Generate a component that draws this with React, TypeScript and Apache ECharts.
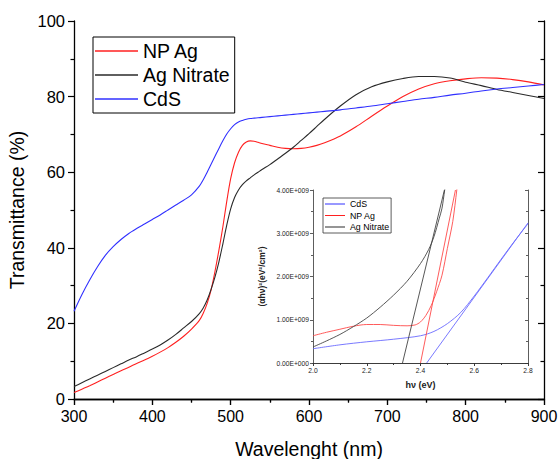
import React, { useEffect, useRef } from "react";
import * as echarts from "echarts";

const FONT = "'Liberation Sans', Arial, sans-serif";

// Main chart data (wavelength in nm, transmittance %)
const wavelengths = [300, 310, 320, 330, 340, 350, 360, 370, 380, 390, 400, 410, 420, 430, 440, 450, 460, 465, 470, 475, 480, 485, 490, 495, 500, 505, 510, 515, 520, 525, 530, 535, 540, 550, 560, 570, 580, 590, 600, 610, 620, 640, 660, 680, 700, 720, 740, 760, 780, 800, 820, 840, 860, 880, 900];
const npAg = [1.7, 2.6, 3.5, 4.5, 5.5, 6.5, 7.5, 8.4, 9.4, 10.3, 11.3, 12.4, 13.6, 15.0, 16.6, 18.5, 20.8, 22.7, 25.3, 28.9, 33.8, 39.4, 45.5, 52.3, 58.3, 62.5, 65.3, 67.1, 68.0, 68.3, 68.2, 67.9, 67.6, 67.1, 66.6, 66.3, 66.2, 66.3, 66.6, 67.1, 67.8, 69.6, 72.0, 74.8, 77.5, 80.0, 82.0, 83.4, 84.2, 84.7, 85.0, 84.9, 84.5, 83.9, 83.1];
const agNitrate = [3.3, 4.3, 5.3, 6.3, 7.3, 8.3, 9.3, 10.3, 11.2, 12.2, 13.2, 14.3, 15.6, 17.1, 18.8, 20.5, 22.6, 24.1, 26.2, 29.0, 32.3, 36.3, 41.0, 46.0, 50.3, 53.3, 55.3, 56.7, 57.7, 58.5, 59.3, 60.0, 60.7, 62.0, 63.5, 65.0, 66.6, 68.4, 70.2, 72.1, 74.0, 77.5, 80.5, 82.6, 83.9, 84.8, 85.3, 85.3, 84.9, 83.8, 82.9, 81.9, 81.1, 80.3, 79.5];
const cds = [23.2, 27.6, 31.5, 35.0, 38.0, 40.3, 42.2, 43.8, 45.1, 46.3, 47.5, 48.7, 50.0, 51.3, 52.6, 54.0, 56.3, 58.0, 60.0, 62.1, 64.2, 66.3, 68.3, 70.1, 71.5, 72.6, 73.3, 73.7, 74.0, 74.2, 74.3, 74.4, 74.5, 74.7, 74.9, 75.1, 75.3, 75.5, 75.7, 75.9, 76.1, 76.5, 77.0, 77.5, 78.1, 78.7, 79.3, 79.8, 80.4, 80.9, 81.5, 82.0, 82.4, 82.8, 83.2];

// Inset data (photon energy in eV, (αhν)² in units of 1E+009)
const insetCdsEv = [2.0, 2.1, 2.2, 2.3, 2.4, 2.45, 2.5, 2.55, 2.6, 2.65, 2.7, 2.75, 2.8];
const insetCds = [0.33, 0.42, 0.49, 0.55, 0.63, 0.73, 0.91, 1.17, 1.55, 1.97, 2.4, 2.82, 3.22];
const insetNpEv = [2.0, 2.05, 2.1, 2.15, 2.2, 2.25, 2.3, 2.35, 2.38, 2.4, 2.42, 2.44, 2.46, 2.48, 2.5, 2.52, 2.535, 2.55];
const insetNp = [0.63, 0.71, 0.78, 0.85, 0.89, 0.89, 0.87, 0.86, 0.88, 0.95, 1.1, 1.33, 1.65, 2.03, 2.65, 3.27, 4.0, 4.8];
const insetAgEv = [2.0, 2.05, 2.1, 2.15, 2.2, 2.25, 2.3, 2.35, 2.4, 2.43, 2.45, 2.47, 2.48, 2.49, 2.5];
const insetAg = [0.37, 0.51, 0.66, 0.84, 1.04, 1.29, 1.57, 1.89, 2.3, 2.62, 2.92, 3.35, 3.58, 4.0, 4.4];
// Tangent (fit) lines: [eV, value] endpoints
const fitCdsEv = [2.423, 2.8];
const fitCds = [0, 3.24];
const fitNpEv = [2.4, 2.53];
const fitNp = [0, 4.0];
const fitAgEv = [2.333, 2.489];
const fitAg = [0, 4.0];

const SCALE = 1e9;

const RED = "#ff2020";
const BLACK = "#2a2a2a";
const BLUE = "#3030ff";
const RED_I = "#ff4a4a";
const BLACK_I = "#444444";
const BLUE_I = "#6a6aff";

const pairs = (xs: number[], ys: number[], k = 1) => xs.map((x, i) => [x, ys[i] * k]);

const sciLabel = (v: number) => {
  if (v === 0) return "0.00E+000";
  return (v / SCALE).toFixed(2) + "E+009";
};

export default function App() {
  const ref = useRef<HTMLDivElement>(null);
  useEffect(() => {
    if (!ref.current) return;
    const chart = echarts.init(ref.current, undefined, { renderer: "svg" });
    const mainAxisLine = { show: true, lineStyle: { color: "#000", width: 1.3 } };
    const insetAxisLine = { show: true, lineStyle: { color: "#333", width: 0.8 } };
    const mainTick = (inside: boolean) => ({ show: true, inside, length: 6, lineStyle: { color: "#000", width: 1.2 } });
    const mainMinor = { show: true, splitNumber: 2, length: 3.5, lineStyle: { color: "#000", width: 1.2 } };
    const insetTick = (inside: boolean) => ({ show: true, inside, length: 3, lineStyle: { color: "#333", width: 0.8 } });
    const insetMinor = { show: true, splitNumber: 2, length: 2, lineStyle: { color: "#333", width: 0.8 } };
    chart.setOption({
      animation: false,
      backgroundColor: "#fff",
      textStyle: { fontFamily: FONT },
      grid: [
        { left: 74, right: 14, top: 21, bottom: 60, containLabel: false, outerBoundsMode: "none" },
        { left: 313, top: 190, width: 215, height: 173, show: true, backgroundColor: "#fff", borderWidth: 0, containLabel: false, outerBoundsMode: "none" },
      ],
      legend: [
        {
          data: ["NP Ag", "Ag Nitrate", "CdS"],
          orient: "vertical",
          left: 93,
          top: 37,
          icon: "rect",
          itemWidth: 43,
          itemHeight: 1.3,
          itemGap: 4,
          padding: [4, 5, 4, 2],
          borderColor: "#000",
          borderWidth: 1,
          selectedMode: false,
          textStyle: { fontSize: 19.5, color: "#000", fontFamily: FONT, lineHeight: 20 },
        },
        {
          data: ["CdS", "NP Ag", "Ag Nitrate"],
          orient: "vertical",
          left: 323,
          top: 198,
          icon: "rect",
          itemWidth: 20,
          itemHeight: 1,
          itemGap: 1.5,
          padding: [1, 2, 1, 2],
          borderColor: "#333",
          borderWidth: 0.8,
          selectedMode: false,
          textStyle: { fontSize: 8.8, color: "#000", fontFamily: FONT, lineHeight: 10 },
        },
      ],
      xAxis: [
        {
          gridIndex: 0, type: "value", min: 300, max: 900, interval: 100, position: "bottom",
          axisLine: mainAxisLine, axisTick: mainTick(false), minorTick: mainMinor,
          splitLine: { show: false },
          axisLabel: { fontSize: 16, color: "#000", margin: 9, fontFamily: FONT },
          name: "Wavelenght (nm)", nameLocation: "middle", nameGap: 40,
          nameTextStyle: { fontSize: 19.5, color: "#000", fontFamily: FONT },
        },
        {
          gridIndex: 0, type: "value", min: 300, max: 900, interval: 100, position: "top",
          axisLine: mainAxisLine, axisTick: mainTick(true), minorTick: mainMinor,
          splitLine: { show: false }, axisLabel: { show: false },
        },
        {
          gridIndex: 1, type: "value", min: 2.0, max: 2.8, interval: 0.2, position: "bottom",
          axisLine: insetAxisLine, axisTick: insetTick(false), minorTick: insetMinor,
          splitLine: { show: false },
          axisLabel: { fontSize: 6.7, color: "#222", margin: 4, fontFamily: FONT, formatter: (v: number) => v.toFixed(1) },
          name: "hν (eV)", nameLocation: "middle", nameGap: 17,
          nameTextStyle: { fontSize: 9, color: "#222", fontWeight: "bold", fontFamily: FONT },
        },
        {
          gridIndex: 1, type: "value", min: 2.0, max: 2.8, interval: 0.2, position: "top",
          axisLine: insetAxisLine, axisTick: insetTick(true), minorTick: insetMinor,
          splitLine: { show: false }, axisLabel: { show: false },
        },
      ],
      yAxis: [
        {
          gridIndex: 0, type: "value", min: 0, max: 100, interval: 20, position: "left",
          axisLine: mainAxisLine, axisTick: mainTick(false), minorTick: mainMinor,
          splitLine: { show: false },
          axisLabel: { fontSize: 16.5, color: "#000", margin: 9, fontFamily: FONT },
          name: "Transmittance (%)", nameLocation: "middle", nameGap: 39,
          nameTextStyle: { fontSize: 19.5, color: "#000", fontFamily: FONT },
        },
        {
          gridIndex: 0, type: "value", min: 0, max: 100, interval: 20, position: "right",
          axisLine: mainAxisLine, axisTick: mainTick(true), minorTick: mainMinor,
          splitLine: { show: false }, axisLabel: { show: false },
        },
        {
          gridIndex: 1, type: "value", min: 0, max: 4 * SCALE, interval: SCALE, position: "left",
          axisLine: insetAxisLine, axisTick: insetTick(false), minorTick: insetMinor,
          splitLine: { show: false },
          axisLabel: { fontSize: 6.7, color: "#222", margin: 4, fontFamily: FONT, formatter: sciLabel },
          name: "(αhν)²(eV²/cm²)", nameLocation: "middle", nameGap: 47,
          nameTextStyle: { fontSize: 8.5, color: "#222", fontWeight: "bold", fontFamily: FONT },
        },
        {
          gridIndex: 1, type: "value", min: 0, max: 4 * SCALE, interval: SCALE, position: "right",
          axisLine: insetAxisLine, axisTick: insetTick(true), minorTick: insetMinor,
          splitLine: { show: false }, axisLabel: { show: false },
        },
      ],
      series: [
        { name: "NP Ag", type: "line", xAxisIndex: 0, yAxisIndex: 0, data: pairs(wavelengths, npAg), smooth: 0.3, symbol: "none", lineStyle: { color: RED, width: 1.1 }, itemStyle: { color: RED } },
        { name: "Ag Nitrate", type: "line", xAxisIndex: 0, yAxisIndex: 0, data: pairs(wavelengths, agNitrate), smooth: 0.3, symbol: "none", lineStyle: { color: BLACK, width: 1.1 }, itemStyle: { color: BLACK } },
        { name: "CdS", type: "line", xAxisIndex: 0, yAxisIndex: 0, data: pairs(wavelengths, cds), smooth: 0.3, symbol: "none", lineStyle: { color: BLUE, width: 1.1 }, itemStyle: { color: BLUE } },
        { name: "CdS", type: "line", xAxisIndex: 2, yAxisIndex: 2, data: pairs(insetCdsEv, insetCds, SCALE), smooth: 0.3, symbol: "none", clip: true, lineStyle: { color: BLUE_I, width: 0.9 }, itemStyle: { color: BLUE_I } },
        { name: "NP Ag", type: "line", xAxisIndex: 2, yAxisIndex: 2, data: pairs(insetNpEv, insetNp, SCALE), smooth: 0.3, symbol: "none", clip: true, lineStyle: { color: RED_I, width: 0.9 }, itemStyle: { color: RED_I } },
        { name: "Ag Nitrate", type: "line", xAxisIndex: 2, yAxisIndex: 2, data: pairs(insetAgEv, insetAg, SCALE), smooth: 0.3, symbol: "none", clip: true, lineStyle: { color: BLACK_I, width: 0.9 }, itemStyle: { color: BLACK_I } },
        { name: "CdS fit", type: "line", xAxisIndex: 2, yAxisIndex: 2, data: pairs(fitCdsEv, fitCds, SCALE), symbol: "none", clip: true, lineStyle: { color: BLUE_I, width: 0.9 } },
        { name: "NP Ag fit", type: "line", xAxisIndex: 2, yAxisIndex: 2, data: pairs(fitNpEv, fitNp, SCALE), symbol: "none", clip: true, lineStyle: { color: RED_I, width: 0.9 } },
        { name: "Ag Nitrate fit", type: "line", xAxisIndex: 2, yAxisIndex: 2, data: pairs(fitAgEv, fitAg, SCALE), symbol: "none", clip: true, lineStyle: { color: BLACK_I, width: 0.9 } },
      ],
    });
    return () => chart.dispose();
  }, []);
  return <div ref={ref} style={{ position: "absolute", left: 0, top: 0, width: 558, height: 459 }} />;
}
